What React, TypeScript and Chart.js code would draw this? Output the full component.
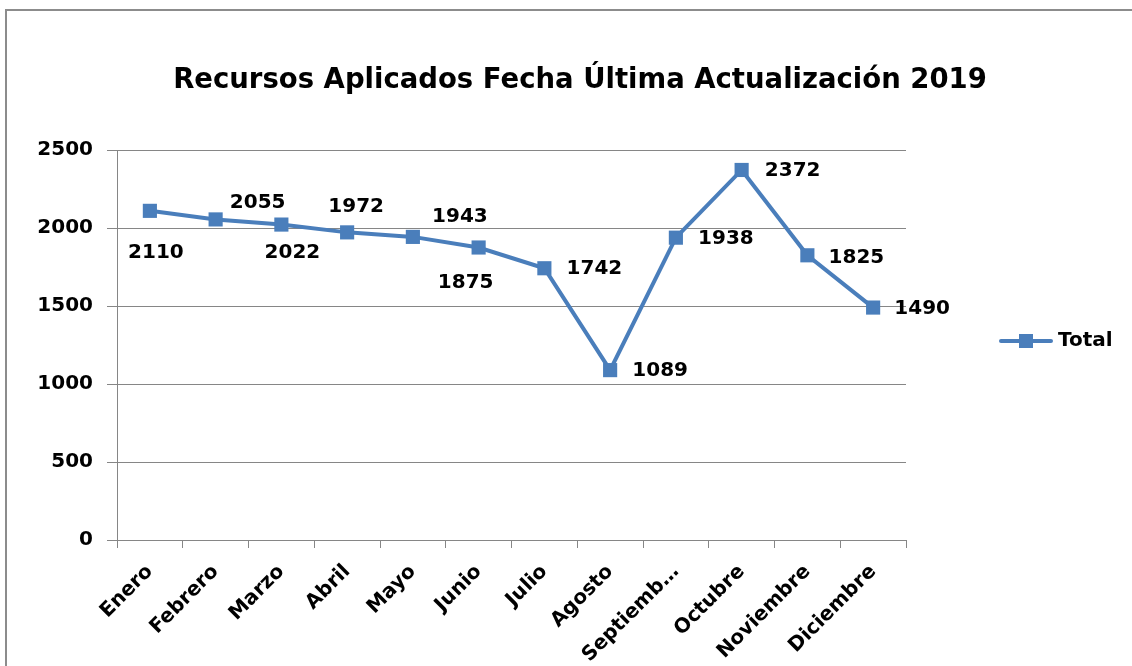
import { useEffect, useRef } from "react";
import { Chart, registerables } from "chart.js";

Chart.register(...registerables);

const TITLE = "Recursos Aplicados Fecha Última Actualización 2019";
const SERIES_NAME = "Total";
const MONTHS = [
  "Enero",
  "Febrero",
  "Marzo",
  "Abril",
  "Mayo",
  "Junio",
  "Julio",
  "Agosto",
  "Septiembre",
  "Octubre",
  "Noviembre",
  "Diciembre",
];
const VALUES = [2110, 2055, 2022, 1972, 1943, 1875, 1742, 1089, 1938, 2372, 1825, 1490];
const Y_MIN = 0;
const Y_MAX = 2500;
const Y_STEP = 500;

// label placement offsets (px) relative to each point — style only
const LABEL_OFFSETS: [number, number][] = [
  [6, 42],
  [42, -17],
  [11, 28],
  [9, -26],
  [47, -20],
  [-13, 35],
  [50, 1],
  [50, 1],
  [50, 1],
  [51, 1],
  [49, 2],
  [49, 1],
];

const FONT_FAMILY = "'DejaVu Sans', sans-serif";
const BLUE = "#4a7ebb";
const GRID = "#868686";

const framePlugin = {
  id: "frame",
  beforeDraw(chart: any) {
    const ctx = chart.ctx;
    ctx.save();
    ctx.fillStyle = "#ffffff";
    ctx.fillRect(0, 0, chart.width, chart.height);
    ctx.fillStyle = "#8c8c8c";
    ctx.fillRect(5, 9, chart.width - 5, 2);
    ctx.fillRect(5, 9, 2, chart.height - 9);
    ctx.restore();
  },
  afterDraw(chart: any) {
    const ctx = chart.ctx;
    ctx.save();
    // title
    ctx.fillStyle = "#000";
    ctx.font = `bold 27.5px ${FONT_FAMILY}`;
    ctx.textAlign = "center";
    ctx.textBaseline = "alphabetic";
    ctx.fillText(TITLE, 580, 88);
    // legend
    const ly = (chart.chartArea.top + chart.chartArea.bottom) / 2 - 4;
    ctx.strokeStyle = BLUE;
    ctx.lineWidth = 4;
    ctx.lineCap = "round";
    ctx.beginPath();
    ctx.moveTo(1001, ly);
    ctx.lineTo(1051, ly);
    ctx.stroke();
    ctx.fillStyle = BLUE;
    ctx.fillRect(1026 - 7, ly - 7, 14, 14);
    ctx.fillStyle = "#000";
    ctx.font = `bold 20px ${FONT_FAMILY}`;
    ctx.textAlign = "left";
    ctx.textBaseline = "middle";
    ctx.fillText(SERIES_NAME, 1058, ly);
    ctx.restore();
  },
};

const labelPlugin = {
  id: "pointLabels",
  afterDatasetsDraw(chart: any) {
    const ctx = chart.ctx;
    const meta = chart.getDatasetMeta(0);
    const data = chart.data.datasets[0].data as number[];
    ctx.save();
    ctx.fillStyle = "#000";
    ctx.font = `bold 20px ${FONT_FAMILY}`;
    ctx.textAlign = "center";
    ctx.textBaseline = "middle";
    meta.data.forEach((pt: any, i: number) => {
      const [dx, dy] = LABEL_OFFSETS[i] || [0, -20];
      ctx.fillText(String(data[i]), pt.x + dx, pt.y + dy);
    });
    ctx.restore();
  },
};

export default function App() {
  const canvasRef = useRef<HTMLCanvasElement | null>(null);

  useEffect(() => {
    const canvas = canvasRef.current;
    if (!canvas) return;
    const chart = new Chart(canvas, {
      type: "line",
      data: {
        labels: MONTHS,
        datasets: [
          {
            label: SERIES_NAME,
            data: VALUES,
            borderColor: BLUE,
            backgroundColor: BLUE,
            borderWidth: 4,
            pointStyle: "rect",
            pointRadius: 10,
            pointBackgroundColor: BLUE,
            pointBorderColor: BLUE,
            pointBorderWidth: 0,
            tension: 0,
          },
        ],
      },
      options: {
        responsive: false,
        animation: false,
        devicePixelRatio: 1,
        layout: { padding: { top: 150, right: 226, left: 0, bottom: 0 } },
        plugins: {
          legend: { display: false },
          title: { display: false },
          tooltip: { enabled: false },
        },
        scales: {
          x: {
            type: "category",
            offset: true,
            afterFit: (s: any) => {
              s.height = 126;
            },
            grid: {
              offset: true,
              drawOnChartArea: false,
              drawTicks: true,
              tickLength: 8,
              color: GRID,
              lineWidth: 1,
            },
            border: { display: true, color: GRID, width: 1 },
            ticks: {
              autoSkip: false,
              maxRotation: 45,
              minRotation: 45,
              padding: 12,
              color: "#000",
              font: { family: FONT_FAMILY, size: 20, weight: "bold" },
              callback: function (this: any, _v: any, i: number) {
                const m = MONTHS[i];
                return m.length > 9 ? m.slice(0, 8) + "…" : m;
              },
            },
          },
          y: {
            min: Y_MIN,
            max: Y_MAX,
            afterFit: (s: any) => {
              s.width = 117;
            },
            grid: {
              color: GRID,
              lineWidth: 1,
              drawTicks: true,
              tickLength: 10,
            },
            border: { display: true, color: GRID, width: 1 },
            ticks: {
              stepSize: Y_STEP,
              padding: 14,
              color: "#000",
              font: { family: FONT_FAMILY, size: 20, weight: "bold" },
              callback: (v: any) => String(v),
            },
          },
        },
      },
      plugins: [framePlugin, labelPlugin],
    });
    return () => chart.destroy();
  }, []);

  return (
    <div style={{ position: "absolute", left: 0, top: 0, width: 1132, height: 666, background: "#fff" }}>
      <canvas ref={canvasRef} width={1132} height={666} />
    </div>
  );
}
